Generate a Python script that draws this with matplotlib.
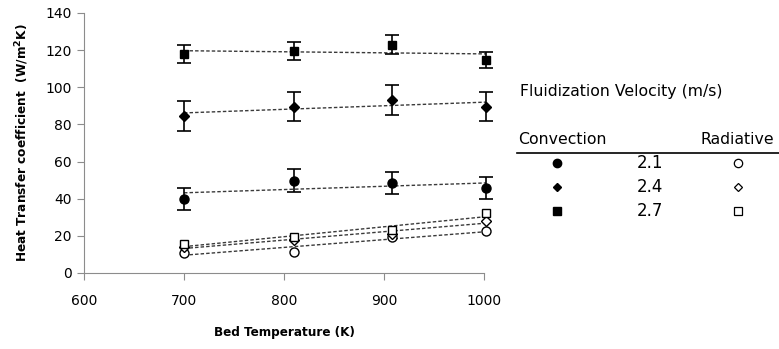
import numpy as np
import matplotlib.pyplot as plt
from matplotlib.lines import Line2D

# Datos
bed_temp = [700, 810, 908, 1002]
velocities = ['2.1', '2.4', '2.7']

conv_21 = [39.7, 49.7, 48.6, 45.6]
conv_24 = [84.5, 89.6, 93.0, 89.6]
conv_27 = [118.0, 119.5, 123.0, 114.7]
err_21 = [5.8, 6.2, 6.0, 6.0]
err_24 = [8.0, 8.0, 8.0, 8.0]
err_27 = [5.0, 5.0, 5.0, 4.5]

rad_21 = [11.0, 11.5, 19.2, 22.6]
rad_24 = [13.8, 18.0, 21.0, 28.0]
rad_27 = [15.4, 19.2, 23.2, 32.1]

markers = ['o', 'D', 's']
msizes = [6.5, 5, 6]

fig = plt.figure(figsize=(7.79, 3.49), dpi=100)
ax = fig.add_axes([0.1078, 0.2178, 0.5135, 0.745])

x = np.array(bed_temp, dtype=float)
xx = np.array([x.min(), x.max()])

def trend(y):
    p = np.polyfit(x, y, 1)
    ax.plot(xx, np.polyval(p, xx), linestyle=(0, (2.5, 1.5)), color='#3a3a3a', lw=1.0, zorder=2)

for y, e, m, ms in zip([conv_21, conv_24, conv_27], [err_21, err_24, err_27], markers, msizes):
    ax.errorbar(x, y, yerr=e, fmt=m, color='black', ms=ms, capsize=5, elinewidth=1.2,
                capthick=1.2, zorder=3)
    trend(y)

for y, m, ms in zip([rad_21, rad_24, rad_27], markers, msizes):
    ax.plot(x, y, m, mfc='white', mec='black', ms=ms, mew=1.0, linestyle='none', zorder=3)
    trend(y)

ax.set_xlim(600, 1000)
ax.set_ylim(0, 140)
ax.set_xticks([600, 700, 800, 900, 1000])
ax.set_yticks(range(0, 141, 20))
for s in ['top', 'right']:
    ax.spines[s].set_visible(False)
for s in ['left', 'bottom']:
    ax.spines[s].set_color('#8c8c8c')
ax.tick_params(colors='#8c8c8c', labelcolor='black', labelsize=10, length=5, pad=10)
ax.tick_params(axis='y', pad=4)
for c in ax.get_children():
    c.set_clip_on(False)

ax.set_xlabel('Bed Temperature (K)', fontsize=9.6, fontweight='bold', labelpad=13,
              fontstretch='condensed')
ax.set_ylabel('Heat Transfer coefficient  (W/m$^\\mathbf{2}$K)', fontsize=9.7,
              fontweight='bold', labelpad=10, fontstretch='condensed')

# Leyenda tipo tabla
fig.text(520 / 779, 1 - 92 / 349, 'Fluidization Velocity (m/s)', fontsize=11.3, va='center')
fig.text(518 / 779, 1 - 140 / 349, 'Convection', fontsize=11.3, va='center')
fig.text(700 / 779, 1 - 140 / 349, 'Radiative', fontsize=11.3, va='center')
fig.add_artist(Line2D([517 / 779, 1.0], [1 - 153 / 349] * 2, color='black', lw=1.2))
for i, (v, m) in enumerate(zip(velocities, markers)):
    yy = 1 - (163 + 24 * i) / 349
    ms = [6, 4.5, 6][i]
    fig.add_artist(Line2D([557 / 779], [yy], marker=m, color='black', ms=ms, ls='none'))
    fig.text(650 / 779, yy, v, fontsize=12, ha='center', va='center')
    fig.add_artist(Line2D([738 / 779], [yy], marker=m, mfc='white', mec='black', ms=ms,
                          mew=0.9, ls='none'))

fig.savefig('out.png', dpi=100)
